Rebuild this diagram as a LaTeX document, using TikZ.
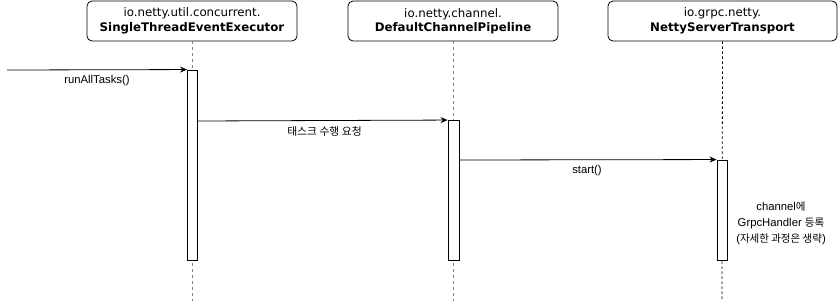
\documentclass[tikz,border=0pt]{standalone}
\usepackage{fontspec}
\setmainfont{Liberation Sans}
\newfontfamily\boxfont{DejaVu Sans}
\newfontfamily\kr{Noto Sans CJK KR}
\usetikzlibrary{arrows.meta}
\begin{document}
\begin{tikzpicture}[x=1pt,y=-1pt,
  objbox/.style={draw,rounded corners=5pt,line width=0.8pt,font=\boxfont\fontsize{11.8}{14.5}\selectfont,align=center,inner sep=0pt},
  lifeline/.style={dash pattern=on 3pt off 3pt,line width=1pt},
  actbox/.style={draw,fill=white,line width=0.9pt},
  msg/.style={line width=0.8pt,-{Stealth[length=7pt,width=6pt]}},
  lbl/.style={font=\fontsize{11.3}{14}\selectfont,inner sep=0pt}]
\useasboundingbox (0,0) rectangle (838,301);
% participant headers
\node[objbox,minimum width=210pt,minimum height=40pt] (p1) at (192,21) {io.netty.util.concurrent.\\\textbf{SingleThreadEventExecutor}};
\node[objbox,minimum width=210pt,minimum height=40pt] (p2) at (453,21) {io.netty.channel.\\\textbf{DefaultChannelPipeline}};
\node[objbox,minimum width=229pt,minimum height=40pt] (p3) at (722.5,21) {io.grpc.netty.\\\textbf{NettyServerTransport}};
% lifelines
\coordinate (e1) at (192,301);
\coordinate (e2) at (453,301);
\coordinate (e3) at (722,301);
\draw[lifeline,gray] (p1.south) -- (e1);
\draw[lifeline,gray] (p2.south) -- (e2);
\draw[lifeline,line width=0.8pt,dash pattern=on 2.5pt off 2.5pt] (p3.south) -- (e3);
% activations
\node[actbox,minimum width=10pt,minimum height=190pt,inner sep=0pt] (a1) at (192.5,165) {};
\node[actbox,minimum width=11pt,minimum height=139.5pt,inner sep=0pt] (a2) at (453.5,190.25) {};
\node[actbox,minimum width=10pt,minimum height=100pt,inner sep=0pt] (a3) at (722,210) {};
% messages
\coordinate (start) at (7,70);
\draw[msg] (start) -- (a1.north west);
\node[lbl] (m1) at (97,81) {runAllTasks()};
\draw[msg] (a1.east |- 0,121) -- (a2.north west);
\node[lbl] (m2) at (324.5,131) {\kr\fontsize{10.8}{14}\selectfont 태스크 수행 요청};
\draw[msg] (a2.east |- 0,160) -- (a3.north west);
\node[lbl] (m3) at (587,171) {start()};
\node[lbl,align=center,font=\fontsize{11.3}{16}\selectfont] (note) at (781,223) {channel{\kr\fontsize{10.5}{16}\selectfont 에}\\GrpcHandler {\kr\fontsize{10.5}{16}\selectfont 등록}\\({\kr\fontsize{10.5}{16}\selectfont 자세한 과정은 생략})};
\end{tikzpicture}
\end{document}
